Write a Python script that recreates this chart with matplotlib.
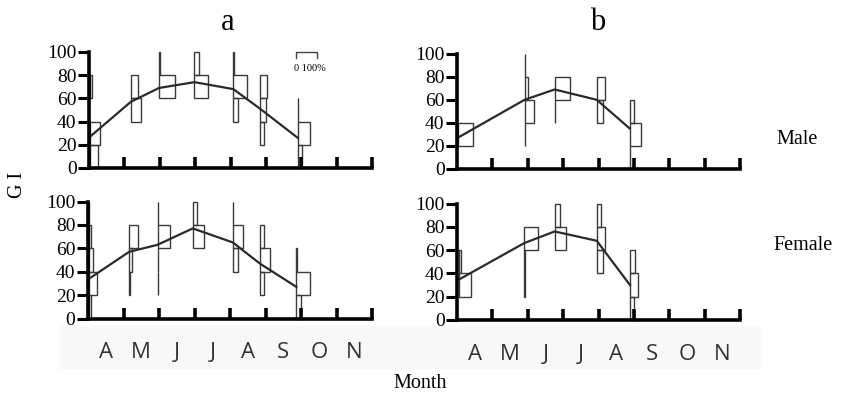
import numpy as np
import matplotlib.pyplot as plt
from matplotlib.patches import Rectangle

plt.rcParams['font.family'] = 'serif'
plt.rcParams['font.serif'] = ['Liberation Serif']

# month labels and GI classes
months = ['A', 'M', 'J', 'J', 'A', 'S', 'O', 'N']
bin_lo = [0, 20, 40, 60, 80]
yticks = [0, 20, 40, 60, 80, 100]

# sampling dates (months from 1 April), mean GI, class frequencies (%) per sample
a_male_x = [0.03, 1.18, 1.98, 2.98, 4.08, 4.84, 5.90]
a_male_mean = [27, 57, 69, 74, 68, 51, 26]
a_male_freq = [[37, 48, 0, 11, 0],
               [0, 0, 48, 33, 0],
               [0, 0, 0, 75, 3],
               [0, 0, 0, 65, 20],
               [0, 0, 21, 65, 3],
               [0, 20, 30, 35, 0],
               [23, 60, 3, 0, 0]]

a_female_x = [0.03, 1.16, 1.96, 2.95, 4.08, 4.84, 5.87]
a_female_mean = [34, 57, 63, 77, 65, 47, 27]
a_female_freq = [[11, 40, 21, 11, 2],
                 [0, 3, 15, 43, 0],
                 [0, 3, 3, 61, 3],
                 [0, 0, 0, 53, 21],
                 [0, 0, 24, 48, 3],
                 [0, 21, 48, 21, 0],
                 [21, 65, 3, 0, 0]]

b_male_x = [0.03, 1.91, 2.76, 3.95, 4.88]
b_male_mean = [27, 60, 69, 60, 35]
b_male_freq = [[0, 72, 0, 0, 0],
               [0, 3, 45, 16, 3],
               [0, 0, 3, 76, 0],
               [0, 0, 30, 38, 0],
               [3, 55, 19, 0, 0]]

b_female_x = [0.07, 1.90, 2.76, 3.95, 4.89]
b_female_mean = [35, 66, 76, 68, 30]
b_female_freq = [[0, 56, 5, 0, 0],
                 [0, 3, 3, 68, 0],
                 [0, 0, 0, 57, 25],
                 [0, 0, 28, 40, 20],
                 [20, 40, 24, 0, 0]]

scale = 0.585  # width of 100% in month units

W, H = 843, 405
fig = plt.figure(figsize=(8.43, 4.05), dpi=100)

# faint grey band behind the month labels
fig.patches.append(Rectangle((60 / W, 1 - 368 / H), 700 / W, 42 / H,
                             transform=fig.transFigure, color='#f8f8f8', zorder=-5))


def add_ax(x0, x1, yb, yt):
    return fig.add_axes([x0 / W, 1 - yb / H, (x1 - x0) / W, (yb - yt) / H])


def panel(ax, xs, means, freqs, labels):
    ax.set_xlim(0, 8)
    ax.set_ylim(0, 100)
    ax.patch.set_alpha(0)
    for s in ['top', 'right']:
        ax.spines[s].set_visible(False)
    for s in ['left', 'bottom']:
        ax.spines[s].set_linewidth(2.6)
    for x0, f in zip(xs, freqs):
        for lo, p in zip(bin_lo, f):
            if p > 0:
                ax.add_patch(Rectangle((x0, lo), p / 100 * scale, 20, fill=False,
                                       ec='#3a3a3a', lw=1.0, clip_on=False))
    ax.plot(xs, means, color='#2a2a2a', lw=1.6, clip_on=False)
    ax.set_yticks(yticks)
    ax.tick_params(axis='y', length=8, width=2.2, pad=1, labelsize=14)
    ax.set_xticks(range(1, 9))
    ax.tick_params(axis='x', which='major', direction='in', length=8, width=2.6,
                   labelbottom=False)
    ax.set_xticks(np.arange(8) + 0.5, minor=True)
    if labels:
        ax.set_xticklabels(months, minor=True)
        ax.tick_params(axis='x', which='minor', length=0, pad=17, labelsize=16,
                       labelcolor='#333333', labelfontfamily='Open Sans')
    else:
        ax.tick_params(axis='x', which='minor', length=0, labelbottom=False)


ax1 = add_ax(89, 372, 168, 52)
panel(ax1, a_male_x, a_male_mean, a_male_freq, False)
ax2 = add_ax(88, 372, 318.5, 201.5)
panel(ax2, a_female_x, a_female_mean, a_female_freq, True)
ax3 = add_ax(457, 740, 168.5, 54)
panel(ax3, b_male_x, b_male_mean, b_male_freq, False)
ax4 = add_ax(457, 740, 320, 203.5)
panel(ax4, b_female_x, b_female_mean, b_female_freq, True)

# scale bar for the frequency widths
sx = 5.86
ax1.plot([sx, sx, sx + scale, sx + scale], [95, 100, 100, 95], color='#444444', lw=1, clip_on=False)
ax1.text(sx - 0.06, 86, '0 100%', fontsize=7.5, ha='left', va='center')

fig.text(228 / W, 1 - 22 / H, 'a', fontsize=22, ha='center', va='center')
fig.text(598 / W, 1 - 22 / H, 'b', fontsize=22, ha='center', va='center')
fig.text(797 / W, 1 - 140 / H, 'Male', fontsize=14.5, ha='center', va='center')
fig.text(803 / W, 1 - 246 / H, 'Female', fontsize=14.5, ha='center', va='center')
fig.text(18 / W, 1 - 185 / H, 'G I', fontsize=14.5, ha='center', va='center', rotation=90)
fig.text(420 / W, 1 - 384 / H, 'Month', fontsize=14.5, ha='center', va='center')

fig.savefig('out.png', dpi=100)
